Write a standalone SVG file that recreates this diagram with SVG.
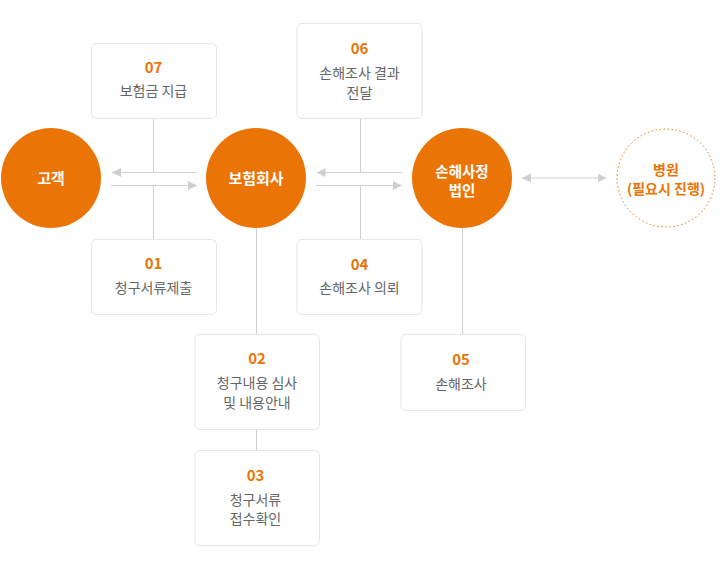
<svg xmlns="http://www.w3.org/2000/svg" width="720" height="570" viewBox="0 0 720 570">
<defs>
<style>
.box{fill:#fff;stroke:#e6e6e6;stroke-width:1}
.num{font-family:"Noto Sans CJK KR","Noto Sans",sans-serif;font-size:15px;font-weight:700;fill:#ea7405;text-anchor:middle}
.lbl{font-family:"Noto Sans CJK KR","Noto Sans",sans-serif;font-size:14px;font-weight:400;fill:#666;text-anchor:middle}
.ctext{font-family:"Noto Sans CJK KR","Noto Sans",sans-serif;font-size:15px;font-weight:700;fill:#fff;text-anchor:middle}
.otext{font-family:"Noto Sans CJK KR","Noto Sans",sans-serif;font-size:14px;font-weight:700;fill:#ea7405;text-anchor:middle}
.circ{fill:#ea7506}
.ln{stroke:#cfcfcf;stroke-width:1;fill:none}
</style>
<marker id="ah" markerUnits="userSpaceOnUse" markerWidth="10" markerHeight="10" viewBox="0 0 10 10" refX="9" refY="5" orient="auto-start-reverse">
<path d="M0,0.5 L9,5 L0,9.5 Z" fill="#cfcfcf"/>
</marker>
</defs>
<g id="connectors">
<line class="ln" x1="153.5" y1="118" x2="153.5" y2="172.5"/>
<line class="ln" x1="153.5" y1="185.5" x2="153.5" y2="239"/>
<line class="ln" x1="197" y1="172.5" x2="112" y2="172.5" marker-end="url(#ah)"/>
<line class="ln" x1="111" y1="185.5" x2="197" y2="185.5" marker-end="url(#ah)"/>
<line class="ln" x1="360.5" y1="118" x2="360.5" y2="172.5"/>
<line class="ln" x1="360.5" y1="185.5" x2="360.5" y2="239"/>
<line class="ln" x1="402" y1="172.5" x2="316.5" y2="172.5" marker-end="url(#ah)"/>
<line class="ln" x1="316" y1="185.5" x2="402" y2="185.5" marker-end="url(#ah)"/>
<line class="ln" x1="256.5" y1="228" x2="256.5" y2="334"/>
<line class="ln" x1="256.5" y1="429" x2="256.5" y2="450"/>
<line class="ln" x1="462.5" y1="228" x2="462.5" y2="334"/>
<line class="ln" x1="522" y1="178" x2="606.5" y2="178" marker-start="url(#ah)" marker-end="url(#ah)"/>
</g>
<g id="customer">
<circle class="circ" cx="51" cy="178" r="50"/>
<text class="ctext" x="51" y="183.5">고객</text>
</g>
<g id="insurer">
<circle class="circ" cx="256" cy="178" r="50"/>
<text class="ctext" x="256" y="183.5">보험회사</text>
</g>
<g id="adjuster">
<circle class="circ" cx="462" cy="178" r="50"/>
<text class="ctext" x="462" y="176.5" style="font-size:14.5px">손해사정<tspan x="462" dy="19.5">법인</tspan></text>
</g>
<g id="hospital">
<circle cx="666" cy="178" r="49" fill="#fff" stroke="#ea7506" stroke-width="1" stroke-dasharray="1.5 2.5"/>
<text class="otext" x="666" y="175">병원<tspan x="666" dy="19">(필요시 진행)</tspan></text>
</g>
<g id="step07">
<rect class="box" x="91.5" y="43.5" width="125" height="75" rx="5"/>
<text class="num" x="153.5" y="73">07</text>
<text class="lbl" x="153.5" y="96">보험금 지급</text>
</g>
<g id="step01">
<rect class="box" x="91.5" y="239.5" width="125" height="75" rx="5"/>
<text class="num" x="153.5" y="269">01</text>
<text class="lbl" x="153.5" y="293">청구서류제출</text>
</g>
<g id="step06">
<rect class="box" x="297" y="23.5" width="125" height="95" rx="5"/>
<text class="num" x="359.5" y="54">06</text>
<text class="lbl" x="359.5" y="78">손해조사 결과<tspan x="359.5" dy="19.5">전달</tspan></text>
</g>
<g id="step04">
<rect class="box" x="297" y="239.5" width="125" height="75" rx="5"/>
<text class="num" x="359.5" y="270">04</text>
<text class="lbl" x="359.5" y="293">손해조사 의뢰</text>
</g>
<g id="step02">
<rect class="box" x="195" y="334.5" width="124.5" height="95" rx="5"/>
<text class="num" x="257" y="364">02</text>
<text class="lbl" x="257" y="388">청구내용 심사<tspan x="257" dy="19.5">및 내용안내</tspan></text>
</g>
<g id="step03">
<rect class="box" x="195" y="450.5" width="124.5" height="95" rx="5"/>
<text class="num" x="255.5" y="481">03</text>
<text class="lbl" x="255.5" y="504.5">청구서류<tspan x="255.5" dy="19.5">접수확인</tspan></text>
</g>
<g id="step05">
<rect class="box" x="401" y="334.5" width="124.5" height="76" rx="5"/>
<text class="num" x="461" y="365">05</text>
<text class="lbl" x="461" y="389">손해조사</text>
</g>
</svg>
